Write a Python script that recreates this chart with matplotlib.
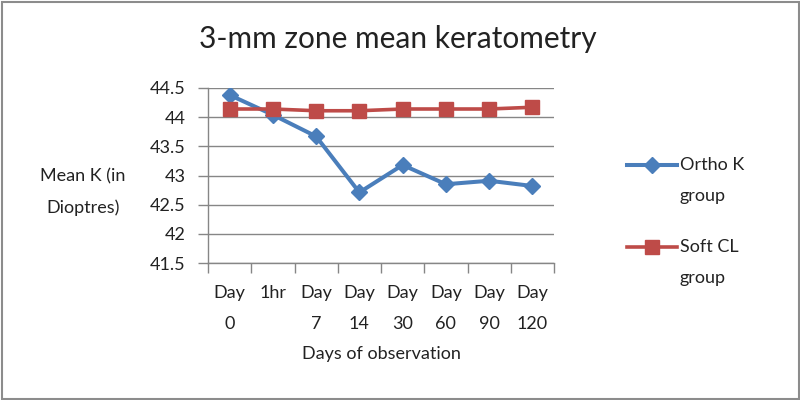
import matplotlib
matplotlib.use("Agg")
import matplotlib.pyplot as plt
from matplotlib.lines import Line2D
from matplotlib.patches import Rectangle
import numpy as np

plt.rcParams['font.family'] = ['Lato', 'DejaVu Sans']

categories = ["Day\n0", "1hr", "Day\n7", "Day\n14", "Day\n30", "Day\n60", "Day\n90", "Day\n120"]
ortho_k = [44.38, 44.04, 43.67, 42.71, 43.18, 42.85, 42.91, 42.82]
soft_cl = [44.14, 44.14, 44.11, 44.11, 44.14, 44.14, 44.14, 44.17]
series_names = ["Ortho K\ngroup", "Soft CL\ngroup"]
yticks = [41.5, 42, 42.5, 43, 43.5, 44, 44.5]
ytick_labels = ["41.5", "42", "42.5", "43", "43.5", "44", "44.5"]

blue = "#4A7EBB"
red = "#BE4B48"
grid_c = "#868686"
txt_c = "#222222"
fs = 13
ls = 2.15

W, H = 800, 400
fig = plt.figure(figsize=(8, 4), dpi=100)
ax = fig.add_axes([208 / W, 1 - 263 / H, (554 - 208) / W, (263 - 88) / H])

x = np.arange(len(categories))
ax.plot(x, ortho_k, color=blue, lw=2.9, marker="D", ms=8, mfc=blue, mec=blue, zorder=3)
ax.plot(x, soft_cl, color=red, lw=2.6, marker="s", ms=9.5, mfc=red, mec=red, zorder=3)

ax.set_xlim(-0.5, len(categories) - 0.5)
ax.set_ylim(41.5, 44.5)
ax.set_yticks(yticks)
ax.set_yticklabels(ytick_labels)
ax.yaxis.grid(True, color=grid_c, lw=1)
ax.set_axisbelow(True)

# category boundaries as major ticks, labels at centers as minor ticks
ax.set_xticks(np.arange(len(categories) + 1) - 0.5)
ax.set_xticklabels([])
ax.set_xticks(x, minor=True)
ax.set_xticklabels(categories, minor=True, fontsize=fs, color=txt_c, linespacing=ls,
                   va="top")
ax.tick_params(axis="x", which="minor", length=0, pad=16)
ax.tick_params(axis="x", which="major", length=7, color=grid_c, width=1)
ax.tick_params(axis="y", length=7, color=grid_c, width=1, pad=9, labelsize=fs,
               labelcolor=txt_c)

for s in ["top", "right"]:
    ax.spines[s].set_visible(False)
for s in ["left", "bottom"]:
    ax.spines[s].set_color(grid_c)
    ax.spines[s].set_linewidth(1)

fig.text(398 / W, 1 - 39 / H, "3-mm zone mean keratometry", ha="center", va="center",
         fontsize=21.5, color=txt_c)
fig.text(381 / W, 1 - 354 / H, "Days of observation", ha="center", va="center",
         fontsize=fs, color=txt_c)
fig.text(83 / W, 1 - 192 / H, "Mean K (in\nDioptres)", ha="center", va="center",
         fontsize=fs, color=txt_c, linespacing=ls)

# legend (manual)
leg_items = [(series_names[0], blue, "D", 8, 2.9, 165),
             (series_names[1], red, "s", 9.5, 2.6, 247)]
for name, c, m, ms, lw, yc in leg_items:
    yf = 1 - yc / H
    fig.add_artist(Line2D([627 / W, 677 / W], [yf, yf], color=c, lw=lw,
                          transform=fig.transFigure))
    fig.add_artist(Line2D([652 / W], [yf], color=c, marker=m, ms=ms, mfc=c, mec=c,
                          transform=fig.transFigure))
    fig.text(680 / W, yf + 8 / H, name, ha="left", va="top", fontsize=fs,
             color=txt_c, linespacing=ls)

# figure border
fig.add_artist(Rectangle((1.5 / W, 1.5 / H), 1 - 3 / W, 1 - 3 / H, transform=fig.transFigure,
                         fill=False, edgecolor="#8c8c8c", lw=1.5))

fig.savefig("out.png", dpi=100)
